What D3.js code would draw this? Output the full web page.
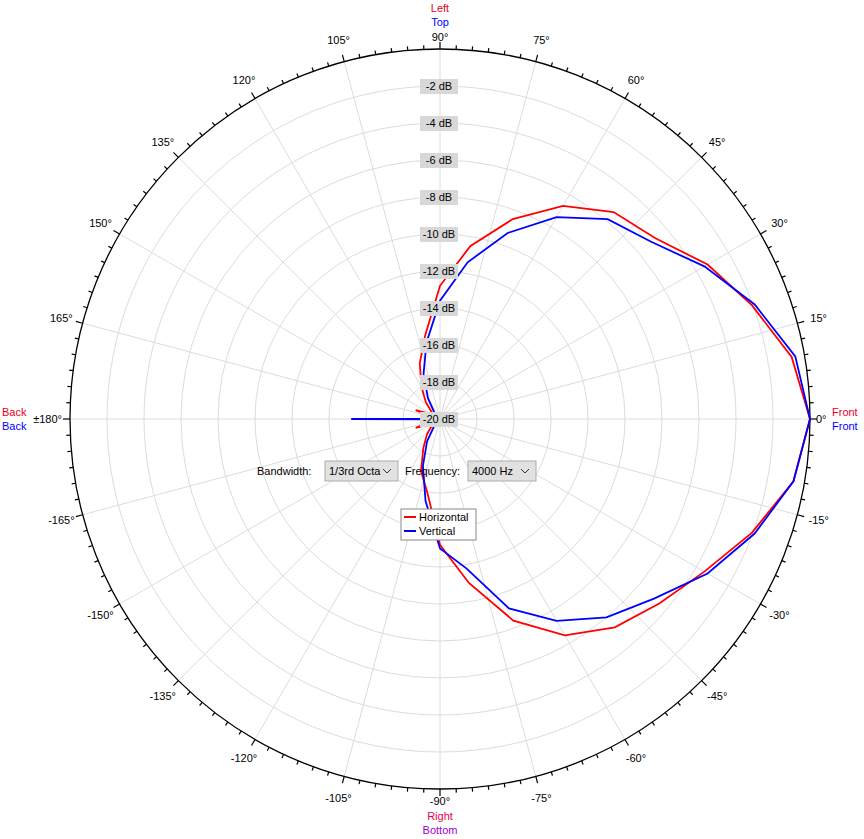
<!DOCTYPE html>
<html><head><meta charset="utf-8">
<script src="https://cdn.jsdelivr.net/npm/d3@7"></script>
<style>body{margin:0;background:#fff;font-family:"Liberation Sans",Arial,sans-serif}</style>
</head><body>
<svg id="chart" width="864" height="839"></svg>
<script>
// angles in degrees, values in dB
var angles = [0,10,20,30,40,50,60,70,80,90,100,110,120,130,140,150,160,170,180,190,200,210,220,230,240,250,260,270,280,290,300,310,320,330,340,350];
var horizontal = [0,-0.7,-2.05,-3.3,-4.8,-5.4,-6.7,-8.5,-10.5,-12.8,-15.4,-16.8,-18,-18.8,-19.4,-19.5,-18.6,-19.8,-20,-19.8,-18.6,-19.5,-19.4,-18.9,-18.2,-17,-16,-13.2,-11,-8.4,-6.5,-5.3,-4.5,-3.5,-2.05,-0.6];
var vertical = [0,-0.5,-1.9,-3.5,-5.1,-5.9,-7.4,-9.3,-11.4,-13.6,-15.8,-17.4,-18.7,-19.5,-19.8,-19.9,-19.9,-19.9,-15.2,-19.9,-19.9,-19.9,-19.8,-19.5,-18.6,-17.3,-15.5,-13,-11.8,-9.1,-7.4,-6.0,-4.9,-3.3,-1.9,-0.6];
var dbTicks = [-2,-4,-6,-8,-10,-12,-14,-16,-18,-20];
var angleLabels = [0,15,30,45,60,75,90,105,120,135,150,165,180,-165,-150,-135,-120,-105,-90,-75,-60,-45,-30,-15];

var cx = 440, cy = 419, R = 370;
var svg = d3.select("#chart");
var r = d3.scaleLinear().domain([-20, 0]).range([0, R]);
function pt(a, db) {
    var t = a * Math.PI / 180;
    return [cx + r(db) * Math.cos(t), cy - r(db) * Math.sin(t)];
}

// grid rings
svg.selectAll(".ring").data(dbTicks.slice(0, 9)).enter().append("circle")
    .attr("cx", cx).attr("cy", cy).attr("r", function (d) { return r(d); })
    .attr("fill", "none").attr("stroke", "#dcdcdc");
// spokes
svg.selectAll(".spoke").data(d3.range(0, 360, 15)).enter().append("line")
    .attr("x1", cx).attr("y1", cy)
    .attr("x2", function (d) { return pt(d, 0)[0]; })
    .attr("y2", function (d) { return pt(d, 0)[1]; })
    .attr("stroke", "#dcdcdc");
// outer circle + ticks
svg.append("circle").attr("cx", cx).attr("cy", cy).attr("r", R)
    .attr("fill", "none").attr("stroke", "#000").attr("stroke-width", 1.3);
svg.selectAll(".tick").data(d3.range(0, 360, 2.5)).enter().append("line")
    .each(function (d) {
        var t = d * Math.PI / 180, l = (d % 15 === 0) ? 7 : 4;
        d3.select(this)
            .attr("x1", cx + R * Math.cos(t)).attr("y1", cy - R * Math.sin(t))
            .attr("x2", cx + (R + l) * Math.cos(t)).attr("y2", cy - (R + l) * Math.sin(t));
    })
    .attr("stroke", "#000").attr("stroke-width", 1.2);

// angle labels
svg.selectAll(".alab").data(angleLabels.filter(function (d) { return d !== 0 && d !== 90 && d !== 180 && d !== -90; }))
    .enter().append("text")
    .attr("x", function (d) { return cx + (R + 22) * Math.cos(d * Math.PI / 180); })
    .attr("y", function (d) { return cy - (R + 22) * Math.sin(d * Math.PI / 180) + 4; })
    .attr("text-anchor", "middle").attr("font-size", 11).text(function (d) { return d + "°"; });

function lab(x, y, txt, col, anchor) {
    svg.append("text").attr("x", x).attr("y", y).attr("fill", col)
        .attr("text-anchor", anchor || "middle").attr("font-size", 11).text(txt);
}
lab(cx, 12, "Left", "#e8001c"); lab(cx, 26, "Top", "#0000ff"); lab(cx, 41, "90°", "#000");
lab(cx, 805, "-90°", "#000"); lab(cx, 820, "Right", "#e8004a"); lab(cx, 834, "Bottom", "#9a00d0");
lab(816, 423, "0°", "#000", "start"); lab(832, 416, "Front", "#e8001c", "start"); lab(832, 430, "Front", "#0000ff", "start");
lab(62, 423, "±180°", "#000", "end"); lab(2, 416, "Back", "#e8001c", "start"); lab(2, 430, "Back", "#0000ff", "start");

// curves
var line = d3.line().x(function (d) { return d[0]; }).y(function (d) { return d[1]; });
function curve(vals, col) {
    var pts = angles.map(function (a, i) { return pt(a, vals[i]); });
    pts.push(pts[0]);
    svg.append("path").attr("d", line(pts)).attr("fill", "none")
        .attr("stroke", col).attr("stroke-width", 1.8);
}
curve(horizontal, "#ff0000");
curve(vertical, "#0000ff");

// dB labels
dbTicks.forEach(function (d) {
    var y = cy - r(d);
    svg.append("rect").attr("x", 420).attr("y", y - 7).attr("width", 38).attr("height", 15).attr("fill", "#d8d8d8");
    svg.append("text").attr("x", 439).attr("y", y + 4).attr("text-anchor", "middle")
        .attr("font-size", 11).text(d + " dB");
});

// controls
function combo(x, w, txt) {
    svg.append("rect").attr("x", x).attr("y", 461).attr("width", w).attr("height", 20)
        .attr("fill", "#e1e1e1").attr("stroke", "#adadad");
    svg.append("text").attr("x", x + 4).attr("y", 475).attr("font-size", 11).text(txt);
    svg.append("path").attr("d", "M" + (x + w - 15) + ",469l4,4l4,-4").attr("fill", "none").attr("stroke", "#333");
}
lab(257, 475, "Bandwidth:", "#000", "start");
combo(325, 73, "1/3rd Octa");
lab(405, 475, "Frequency:", "#000", "start");
combo(468, 68, "4000 Hz");

// legend
svg.append("rect").attr("x", 401).attr("y", 509).attr("width", 75).attr("height", 31)
    .attr("fill", "#fff").attr("stroke", "#888");
[["Horizontal", "#ff0000"], ["Vertical", "#0000ff"]].forEach(function (d, i) {
    var y = 517 + i * 14;
    svg.append("line").attr("x1", 404).attr("x2", 416).attr("y1", y).attr("y2", y).attr("stroke", d[1]).attr("stroke-width", 2);
    svg.append("text").attr("x", 419).attr("y", y + 4).attr("font-size", 11).text(d[0]);
});
</script>
</body></html>
